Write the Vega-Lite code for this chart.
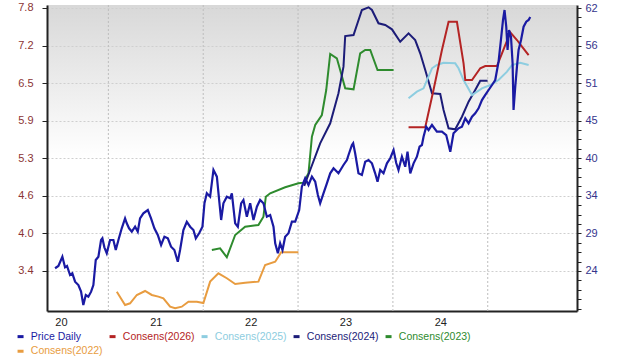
{
"$schema": "https://vega.github.io/schema/vega-lite/v6.json",
"width": 530,
"height": 306,
"autosize": {"type": "none"},
"padding": {"left": 47, "top": 5, "right": 43, "bottom": 48},
"background": "#ffffff",
"config": {
  "font": "Liberation Sans",
  "view": {"stroke": null, "fill": {"gradient": "linear", "x1": 0, "y1": 0, "x2": 0, "y2": 1, "stops": [{"offset": 0, "color": "#d8d8d8"}, {"offset": 0.5, "color": "#ffffff"}, {"offset": 1, "color": "#ffffff"}]}}
},
"datasets": {
  "grid": [{"t": 2020.5}, {"t": 2021.5}, {"t": 2022.5}, {"t": 2023.5}, {"t": 2024.5}],
  "eps": [
    {"s": "Consens(2022)", "t": 2020.589, "v": 3.038},
    {"s": "Consens(2022)", "t": 2020.676, "v": 2.816},
    {"s": "Consens(2022)", "t": 2020.729, "v": 2.844},
    {"s": "Consens(2022)", "t": 2020.800, "v": 2.983},
    {"s": "Consens(2022)", "t": 2020.887, "v": 3.050},
    {"s": "Consens(2022)", "t": 2020.958, "v": 2.983},
    {"s": "Consens(2022)", "t": 2021.027, "v": 2.955},
    {"s": "Consens(2022)", "t": 2021.080, "v": 2.928},
    {"s": "Consens(2022)", "t": 2021.151, "v": 2.787},
    {"s": "Consens(2022)", "t": 2021.204, "v": 2.760},
    {"s": "Consens(2022)", "t": 2021.274, "v": 2.787},
    {"s": "Consens(2022)", "t": 2021.344, "v": 2.871},
    {"s": "Consens(2022)", "t": 2021.433, "v": 2.871},
    {"s": "Consens(2022)", "t": 2021.502, "v": 2.849},
    {"s": "Consens(2022)", "t": 2021.573, "v": 3.206},
    {"s": "Consens(2022)", "t": 2021.660, "v": 3.346},
    {"s": "Consens(2022)", "t": 2021.749, "v": 3.263},
    {"s": "Consens(2022)", "t": 2021.837, "v": 3.167},
    {"s": "Consens(2022)", "t": 2021.942, "v": 3.189},
    {"s": "Consens(2022)", "t": 2022.082, "v": 3.206},
    {"s": "Consens(2022)", "t": 2022.153, "v": 3.485},
    {"s": "Consens(2022)", "t": 2022.259, "v": 3.540},
    {"s": "Consens(2022)", "t": 2022.322, "v": 3.697},
    {"s": "Consens(2022)", "t": 2022.504, "v": 3.697},
    {"s": "Consens(2023)", "t": 2021.591, "v": 3.736},
    {"s": "Consens(2023)", "t": 2021.678, "v": 3.764},
    {"s": "Consens(2023)", "t": 2021.749, "v": 3.614},
    {"s": "Consens(2023)", "t": 2021.837, "v": 3.987},
    {"s": "Consens(2023)", "t": 2021.942, "v": 4.126},
    {"s": "Consens(2023)", "t": 2022.082, "v": 4.154},
    {"s": "Consens(2023)", "t": 2022.135, "v": 4.293},
    {"s": "Consens(2023)", "t": 2022.160, "v": 4.628},
    {"s": "Consens(2023)", "t": 2022.206, "v": 4.685},
    {"s": "Consens(2023)", "t": 2022.364, "v": 4.785},
    {"s": "Consens(2023)", "t": 2022.504, "v": 4.852},
    {"s": "Consens(2023)", "t": 2022.557, "v": 4.862},
    {"s": "Consens(2023)", "t": 2022.610, "v": 5.019},
    {"s": "Consens(2023)", "t": 2022.646, "v": 5.631},
    {"s": "Consens(2023)", "t": 2022.681, "v": 5.827},
    {"s": "Consens(2023)", "t": 2022.751, "v": 5.994},
    {"s": "Consens(2023)", "t": 2022.797, "v": 6.413},
    {"s": "Consens(2023)", "t": 2022.839, "v": 7.015},
    {"s": "Consens(2023)", "t": 2022.909, "v": 6.943},
    {"s": "Consens(2023)", "t": 2022.944, "v": 6.747},
    {"s": "Consens(2023)", "t": 2022.997, "v": 6.441},
    {"s": "Consens(2023)", "t": 2023.085, "v": 6.424},
    {"s": "Consens(2023)", "t": 2023.155, "v": 7.027},
    {"s": "Consens(2023)", "t": 2023.208, "v": 7.082},
    {"s": "Consens(2023)", "t": 2023.261, "v": 7.082},
    {"s": "Consens(2023)", "t": 2023.338, "v": 6.747},
    {"s": "Consens(2023)", "t": 2023.507, "v": 6.747},
    {"s": "Consens(2024)", "t": 2022.565, "v": 4.807},
    {"s": "Consens(2024)", "t": 2022.628, "v": 5.074},
    {"s": "Consens(2024)", "t": 2022.733, "v": 5.521},
    {"s": "Consens(2024)", "t": 2022.839, "v": 5.856},
    {"s": "Consens(2024)", "t": 2022.926, "v": 6.358},
    {"s": "Consens(2024)", "t": 2022.979, "v": 6.803},
    {"s": "Consens(2024)", "t": 2022.997, "v": 7.316},
    {"s": "Consens(2024)", "t": 2023.085, "v": 7.333},
    {"s": "Consens(2024)", "t": 2023.173, "v": 7.751},
    {"s": "Consens(2024)", "t": 2023.243, "v": 7.796},
    {"s": "Consens(2024)", "t": 2023.279, "v": 7.751},
    {"s": "Consens(2024)", "t": 2023.348, "v": 7.529},
    {"s": "Consens(2024)", "t": 2023.419, "v": 7.500},
    {"s": "Consens(2024)", "t": 2023.490, "v": 7.428},
    {"s": "Consens(2024)", "t": 2023.577, "v": 7.221},
    {"s": "Consens(2024)", "t": 2023.665, "v": 7.361},
    {"s": "Consens(2024)", "t": 2023.735, "v": 7.249},
    {"s": "Consens(2024)", "t": 2023.788, "v": 7.027},
    {"s": "Consens(2024)", "t": 2023.841, "v": 6.747},
    {"s": "Consens(2024)", "t": 2023.912, "v": 6.357},
    {"s": "Consens(2024)", "t": 2023.999, "v": 6.346},
    {"s": "Consens(2024)", "t": 2024.034, "v": 6.078},
    {"s": "Consens(2024)", "t": 2024.087, "v": 5.772},
    {"s": "Consens(2024)", "t": 2024.157, "v": 5.755},
    {"s": "Consens(2024)", "t": 2024.228, "v": 5.966},
    {"s": "Consens(2024)", "t": 2024.298, "v": 6.217},
    {"s": "Consens(2024)", "t": 2024.368, "v": 6.413},
    {"s": "Consens(2024)", "t": 2024.421, "v": 6.568},
    {"s": "Consens(2024)", "t": 2024.498, "v": 6.568},
    {"s": "Consens(2025)", "t": 2023.665, "v": 6.274},
    {"s": "Consens(2025)", "t": 2023.753, "v": 6.384},
    {"s": "Consens(2025)", "t": 2023.823, "v": 6.441},
    {"s": "Consens(2025)", "t": 2023.912, "v": 6.776},
    {"s": "Consens(2025)", "t": 2023.964, "v": 6.831},
    {"s": "Consens(2025)", "t": 2024.034, "v": 6.869},
    {"s": "Consens(2025)", "t": 2024.157, "v": 6.859},
    {"s": "Consens(2025)", "t": 2024.192, "v": 6.776},
    {"s": "Consens(2025)", "t": 2024.245, "v": 6.580},
    {"s": "Consens(2025)", "t": 2024.334, "v": 6.329},
    {"s": "Consens(2025)", "t": 2024.439, "v": 6.441},
    {"s": "Consens(2025)", "t": 2024.527, "v": 6.496},
    {"s": "Consens(2025)", "t": 2024.614, "v": 6.580},
    {"s": "Consens(2025)", "t": 2024.703, "v": 6.719},
    {"s": "Consens(2025)", "t": 2024.756, "v": 6.831},
    {"s": "Consens(2025)", "t": 2024.843, "v": 6.869},
    {"s": "Consens(2025)", "t": 2024.931, "v": 6.831},
    {"s": "Consens(2026)", "t": 2023.665, "v": 5.789},
    {"s": "Consens(2026)", "t": 2023.841, "v": 5.789},
    {"s": "Consens(2026)", "t": 2023.928, "v": 6.413},
    {"s": "Consens(2026)", "t": 2024.017, "v": 7.082},
    {"s": "Consens(2026)", "t": 2024.087, "v": 7.555},
    {"s": "Consens(2026)", "t": 2024.175, "v": 7.555},
    {"s": "Consens(2026)", "t": 2024.245, "v": 6.859},
    {"s": "Consens(2026)", "t": 2024.263, "v": 6.580},
    {"s": "Consens(2026)", "t": 2024.334, "v": 6.580},
    {"s": "Consens(2026)", "t": 2024.421, "v": 6.776},
    {"s": "Consens(2026)", "t": 2024.474, "v": 6.814},
    {"s": "Consens(2026)", "t": 2024.597, "v": 6.814},
    {"s": "Consens(2026)", "t": 2024.650, "v": 7.027},
    {"s": "Consens(2026)", "t": 2024.738, "v": 7.378},
    {"s": "Consens(2026)", "t": 2024.808, "v": 7.249},
    {"s": "Consens(2026)", "t": 2024.861, "v": 7.137},
    {"s": "Consens(2026)", "t": 2024.931, "v": 6.998}
  ],
  "price": [
    {"s": "Price Daily", "t": 2019.938, "p": 23.99},
    {"s": "Price Daily", "t": 2019.973, "p": 24.32},
    {"s": "Price Daily", "t": 2020.015, "p": 25.66},
    {"s": "Price Daily", "t": 2020.043, "p": 24.13},
    {"s": "Price Daily", "t": 2020.064, "p": 24.32},
    {"s": "Price Daily", "t": 2020.096, "p": 23.02},
    {"s": "Price Daily", "t": 2020.120, "p": 23.26},
    {"s": "Price Daily", "t": 2020.149, "p": 22.05},
    {"s": "Price Daily", "t": 2020.184, "p": 21.57},
    {"s": "Price Daily", "t": 2020.212, "p": 20.61},
    {"s": "Price Daily", "t": 2020.236, "p": 18.68},
    {"s": "Price Daily", "t": 2020.262, "p": 20.13},
    {"s": "Price Daily", "t": 2020.289, "p": 19.88},
    {"s": "Price Daily", "t": 2020.318, "p": 20.61},
    {"s": "Price Daily", "t": 2020.342, "p": 21.57},
    {"s": "Price Daily", "t": 2020.367, "p": 25.19},
    {"s": "Price Daily", "t": 2020.395, "p": 25.66},
    {"s": "Price Daily", "t": 2020.423, "p": 28.08},
    {"s": "Price Daily", "t": 2020.437, "p": 28.32},
    {"s": "Price Daily", "t": 2020.458, "p": 27.02},
    {"s": "Price Daily", "t": 2020.483, "p": 26.16},
    {"s": "Price Daily", "t": 2020.518, "p": 28.08},
    {"s": "Price Daily", "t": 2020.553, "p": 28.08},
    {"s": "Price Daily", "t": 2020.578, "p": 26.63},
    {"s": "Price Daily", "t": 2020.606, "p": 28.08},
    {"s": "Price Daily", "t": 2020.641, "p": 29.77},
    {"s": "Price Daily", "t": 2020.676, "p": 31.21},
    {"s": "Price Daily", "t": 2020.694, "p": 30.49},
    {"s": "Price Daily", "t": 2020.718, "p": 29.77},
    {"s": "Price Daily", "t": 2020.747, "p": 29.28},
    {"s": "Price Daily", "t": 2020.782, "p": 30.00},
    {"s": "Price Daily", "t": 2020.810, "p": 29.28},
    {"s": "Price Daily", "t": 2020.834, "p": 31.21},
    {"s": "Price Daily", "t": 2020.869, "p": 31.94},
    {"s": "Price Daily", "t": 2020.916, "p": 32.41},
    {"s": "Price Daily", "t": 2020.950, "p": 31.21},
    {"s": "Price Daily", "t": 2020.985, "p": 29.77},
    {"s": "Price Daily", "t": 2021.021, "p": 28.80},
    {"s": "Price Daily", "t": 2021.056, "p": 27.36},
    {"s": "Price Daily", "t": 2021.091, "p": 28.56},
    {"s": "Price Daily", "t": 2021.127, "p": 28.32},
    {"s": "Price Daily", "t": 2021.161, "p": 27.11},
    {"s": "Price Daily", "t": 2021.196, "p": 26.63},
    {"s": "Price Daily", "t": 2021.232, "p": 24.94},
    {"s": "Price Daily", "t": 2021.256, "p": 26.63},
    {"s": "Price Daily", "t": 2021.291, "p": 29.52},
    {"s": "Price Daily", "t": 2021.327, "p": 30.72},
    {"s": "Price Daily", "t": 2021.362, "p": 30.00},
    {"s": "Price Daily", "t": 2021.397, "p": 29.52},
    {"s": "Price Daily", "t": 2021.422, "p": 28.32},
    {"s": "Price Daily", "t": 2021.457, "p": 29.05},
    {"s": "Price Daily", "t": 2021.492, "p": 30.00},
    {"s": "Price Daily", "t": 2021.513, "p": 33.38},
    {"s": "Price Daily", "t": 2021.538, "p": 34.83},
    {"s": "Price Daily", "t": 2021.573, "p": 34.34},
    {"s": "Price Daily", "t": 2021.608, "p": 38.20},
    {"s": "Price Daily", "t": 2021.644, "p": 37.23},
    {"s": "Price Daily", "t": 2021.668, "p": 33.86},
    {"s": "Price Daily", "t": 2021.689, "p": 30.97},
    {"s": "Price Daily", "t": 2021.713, "p": 33.38},
    {"s": "Price Daily", "t": 2021.749, "p": 34.34},
    {"s": "Price Daily", "t": 2021.784, "p": 34.11},
    {"s": "Price Daily", "t": 2021.802, "p": 34.83},
    {"s": "Price Daily", "t": 2021.837, "p": 30.49},
    {"s": "Price Daily", "t": 2021.865, "p": 30.00},
    {"s": "Price Daily", "t": 2021.900, "p": 33.38},
    {"s": "Price Daily", "t": 2021.924, "p": 33.86},
    {"s": "Price Daily", "t": 2021.960, "p": 31.45},
    {"s": "Price Daily", "t": 2021.995, "p": 33.38},
    {"s": "Price Daily", "t": 2022.030, "p": 30.97},
    {"s": "Price Daily", "t": 2022.066, "p": 32.89},
    {"s": "Price Daily", "t": 2022.100, "p": 33.86},
    {"s": "Price Daily", "t": 2022.135, "p": 33.38},
    {"s": "Price Daily", "t": 2022.171, "p": 31.45},
    {"s": "Price Daily", "t": 2022.206, "p": 31.69},
    {"s": "Price Daily", "t": 2022.241, "p": 30.00},
    {"s": "Price Daily", "t": 2022.259, "p": 27.60},
    {"s": "Price Daily", "t": 2022.287, "p": 26.16},
    {"s": "Price Daily", "t": 2022.311, "p": 27.60},
    {"s": "Price Daily", "t": 2022.336, "p": 26.63},
    {"s": "Price Daily", "t": 2022.364, "p": 28.56},
    {"s": "Price Daily", "t": 2022.399, "p": 29.05},
    {"s": "Price Daily", "t": 2022.435, "p": 30.72},
    {"s": "Price Daily", "t": 2022.470, "p": 30.72},
    {"s": "Price Daily", "t": 2022.512, "p": 32.41},
    {"s": "Price Daily", "t": 2022.540, "p": 35.78},
    {"s": "Price Daily", "t": 2022.575, "p": 37.00},
    {"s": "Price Daily", "t": 2022.610, "p": 36.03},
    {"s": "Price Daily", "t": 2022.646, "p": 37.23},
    {"s": "Price Daily", "t": 2022.681, "p": 36.50},
    {"s": "Price Daily", "t": 2022.709, "p": 34.58},
    {"s": "Price Daily", "t": 2022.733, "p": 33.38},
    {"s": "Price Daily", "t": 2022.768, "p": 34.83},
    {"s": "Price Daily", "t": 2022.804, "p": 36.27},
    {"s": "Price Daily", "t": 2022.839, "p": 37.72},
    {"s": "Price Daily", "t": 2022.874, "p": 38.44},
    {"s": "Price Daily", "t": 2022.926, "p": 37.72},
    {"s": "Price Daily", "t": 2022.979, "p": 38.92},
    {"s": "Price Daily", "t": 2023.015, "p": 39.64},
    {"s": "Price Daily", "t": 2023.032, "p": 40.36},
    {"s": "Price Daily", "t": 2023.068, "p": 41.81},
    {"s": "Price Daily", "t": 2023.081, "p": 42.06},
    {"s": "Price Daily", "t": 2023.102, "p": 40.61},
    {"s": "Price Daily", "t": 2023.137, "p": 37.72},
    {"s": "Price Daily", "t": 2023.173, "p": 37.47},
    {"s": "Price Daily", "t": 2023.208, "p": 39.40},
    {"s": "Price Daily", "t": 2023.243, "p": 39.64},
    {"s": "Price Daily", "t": 2023.279, "p": 39.16},
    {"s": "Price Daily", "t": 2023.313, "p": 37.72},
    {"s": "Price Daily", "t": 2023.338, "p": 36.50},
    {"s": "Price Daily", "t": 2023.366, "p": 38.20},
    {"s": "Price Daily", "t": 2023.401, "p": 37.72},
    {"s": "Price Daily", "t": 2023.437, "p": 39.16},
    {"s": "Price Daily", "t": 2023.472, "p": 39.89},
    {"s": "Price Daily", "t": 2023.507, "p": 41.09},
    {"s": "Price Daily", "t": 2023.535, "p": 39.21},
    {"s": "Price Daily", "t": 2023.559, "p": 38.20},
    {"s": "Price Daily", "t": 2023.595, "p": 40.12},
    {"s": "Price Daily", "t": 2023.630, "p": 38.67},
    {"s": "Price Daily", "t": 2023.654, "p": 40.84},
    {"s": "Price Daily", "t": 2023.683, "p": 37.72},
    {"s": "Price Daily", "t": 2023.718, "p": 39.16},
    {"s": "Price Daily", "t": 2023.753, "p": 40.12},
    {"s": "Price Daily", "t": 2023.781, "p": 41.56},
    {"s": "Price Daily", "t": 2023.806, "p": 41.81},
    {"s": "Price Daily", "t": 2023.823, "p": 43.01},
    {"s": "Price Daily", "t": 2023.851, "p": 44.45},
    {"s": "Price Daily", "t": 2023.876, "p": 43.98},
    {"s": "Price Daily", "t": 2023.912, "p": 44.70},
    {"s": "Price Daily", "t": 2023.964, "p": 43.73},
    {"s": "Price Daily", "t": 2024.017, "p": 43.73},
    {"s": "Price Daily", "t": 2024.062, "p": 43.25},
    {"s": "Price Daily", "t": 2024.105, "p": 40.84},
    {"s": "Price Daily", "t": 2024.139, "p": 43.50},
    {"s": "Price Daily", "t": 2024.192, "p": 44.22},
    {"s": "Price Daily", "t": 2024.228, "p": 44.45},
    {"s": "Price Daily", "t": 2024.263, "p": 45.67},
    {"s": "Price Daily", "t": 2024.298, "p": 44.95},
    {"s": "Price Daily", "t": 2024.334, "p": 45.90},
    {"s": "Price Daily", "t": 2024.368, "p": 46.39},
    {"s": "Price Daily", "t": 2024.403, "p": 47.11},
    {"s": "Price Daily", "t": 2024.439, "p": 48.31},
    {"s": "Price Daily", "t": 2024.474, "p": 49.04},
    {"s": "Price Daily", "t": 2024.509, "p": 49.76},
    {"s": "Price Daily", "t": 2024.545, "p": 50.48},
    {"s": "Price Daily", "t": 2024.579, "p": 51.20},
    {"s": "Price Daily", "t": 2024.614, "p": 53.85},
    {"s": "Price Daily", "t": 2024.639, "p": 56.99},
    {"s": "Price Daily", "t": 2024.661, "p": 59.88},
    {"s": "Price Daily", "t": 2024.677, "p": 61.32},
    {"s": "Price Daily", "t": 2024.695, "p": 58.91},
    {"s": "Price Daily", "t": 2024.709, "p": 55.54},
    {"s": "Price Daily", "t": 2024.724, "p": 58.43},
    {"s": "Price Daily", "t": 2024.745, "p": 57.46},
    {"s": "Price Daily", "t": 2024.762, "p": 53.62},
    {"s": "Price Daily", "t": 2024.772, "p": 46.87},
    {"s": "Price Daily", "t": 2024.790, "p": 50.24},
    {"s": "Price Daily", "t": 2024.808, "p": 53.13},
    {"s": "Price Daily", "t": 2024.825, "p": 55.54},
    {"s": "Price Daily", "t": 2024.851, "p": 56.99},
    {"s": "Price Daily", "t": 2024.878, "p": 58.91},
    {"s": "Price Daily", "t": 2024.906, "p": 59.63},
    {"s": "Price Daily", "t": 2024.931, "p": 59.88},
    {"s": "Price Daily", "t": 2024.948, "p": 60.31}
  ]
},
"encoding": {
  "x": {
    "field": "t",
    "type": "quantitative",
    "scale": {"domain": [2019.853, 2025.441], "nice": false, "zero": false},
    "axis": {
      "title": null,
      "values": [2020, 2021, 2022, 2023, 2024],
      "labelExpr": "substring(toString(datum.value), 2, 4)",
      "grid": false,
      "ticks": false,
      "tickSize": 0,
      "labelPadding": 5,
      "labelFontSize": 11,
      "labelColor": "#222222",
      "domainColor": "#222222",
      "domainWidth": 2
    }
  }
},
"layer": [
  {
    "data": {"name": "grid"},
    "mark": {"type": "rule", "color": "#bdbdbd", "strokeDash": [2, 2], "strokeWidth": 1},
    "encoding": {}
  },
  {
    "data": {"name": "eps"},
    "mark": {"type": "line", "strokeWidth": 2},
    "encoding": {
      "y": {
        "field": "v",
        "type": "quantitative",
        "scale": {"domain": [2.715, 7.835], "nice": false, "zero": false},
        "axis": {
          "orient": "left",
          "title": null,
          "values": [3.385, 4.0136, 4.6422, 5.2708, 5.8994, 6.528, 7.1566, 7.7852],
          "format": ".1f",
          "labelFontSize": 11,
          "labelColor": "#8b3535",
          "labelPadding": 9,
          "tickSize": 5,
          "tickColor": "#222222",
          "domainColor": "#222222",
          "domainWidth": 2,
          "grid": true,
          "gridColor": "#cfcfcf",
          "gridDash": [2, 2]
        }
      },
      "color": {
        "field": "s",
        "type": "nominal",
        "scale": {
          "domain": ["Price Daily", "Consens(2026)", "Consens(2025)", "Consens(2024)", "Consens(2023)", "Consens(2022)"],
          "range": ["#1a1aa3", "#b42424", "#8dcde0", "#1c1c78", "#2e8b2e", "#e89c40"]
        },
        "legend": {
          "title": null,
          "orient": "none",
          "legendX": -31.7,
          "legendY": 326,
          "direction": "horizontal",
          "columns": 5,
          "symbolType": "stroke",
          "symbolSize": 36,
          "symbolStrokeWidth": 3,
          "labelFontSize": 10.5,
          "labelOffset": 5,
          "columnPadding": 0,
          "rowPadding": 2,
          "padding": 0,
          "encode": {"labels": {"update": {"fill": {"signal": "scale('color', datum.value)"}}}}
        }
      }
    }
  },
  {
    "data": {"name": "price"},
    "mark": {"type": "line", "strokeWidth": 2.2},
    "encoding": {
      "y": {
        "field": "p",
        "type": "quantitative",
        "scale": {"domain": [17.815, 62.045], "nice": false, "zero": false},
        "axis": {
          "orient": "right",
          "title": null,
          "values": [18.17, 19.5275, 20.885, 22.2425, 23.6, 24.9575, 26.315, 27.6725, 29.03, 30.3875, 31.745, 33.1025, 34.46, 35.8175, 37.175, 38.5325, 39.89, 41.2475, 42.605, 43.9625, 45.32, 46.6775, 48.035, 49.3925, 50.75, 52.1075, 53.465, 54.8225, 56.18, 57.5375, 58.895, 60.2525, 61.61],
          "labelExpr": "(round((datum.value - 23.6) / 1.3575) >= 0 && round((datum.value - 23.6) / 1.3575) % 4 == 0) ? format(datum.value, '.0f') : ''",
          "labelFontSize": 11,
          "labelColor": "#35358c",
          "labelPadding": 4,
          "tickSize": 4,
          "tickColor": "#222222",
          "domainColor": "#222222",
          "domainWidth": 2,
          "grid": false
        }
      },
      "color": {
        "field": "s",
        "type": "nominal",
        "scale": {
          "domain": ["Price Daily", "Consens(2026)", "Consens(2025)", "Consens(2024)", "Consens(2023)", "Consens(2022)"],
          "range": ["#1a1aa3", "#b42424", "#8dcde0", "#1c1c78", "#2e8b2e", "#e89c40"]
        }
      }
    }
  }
],
"resolve": {"scale": {"y": "independent"}, "axis": {"y": "independent"}}
}
